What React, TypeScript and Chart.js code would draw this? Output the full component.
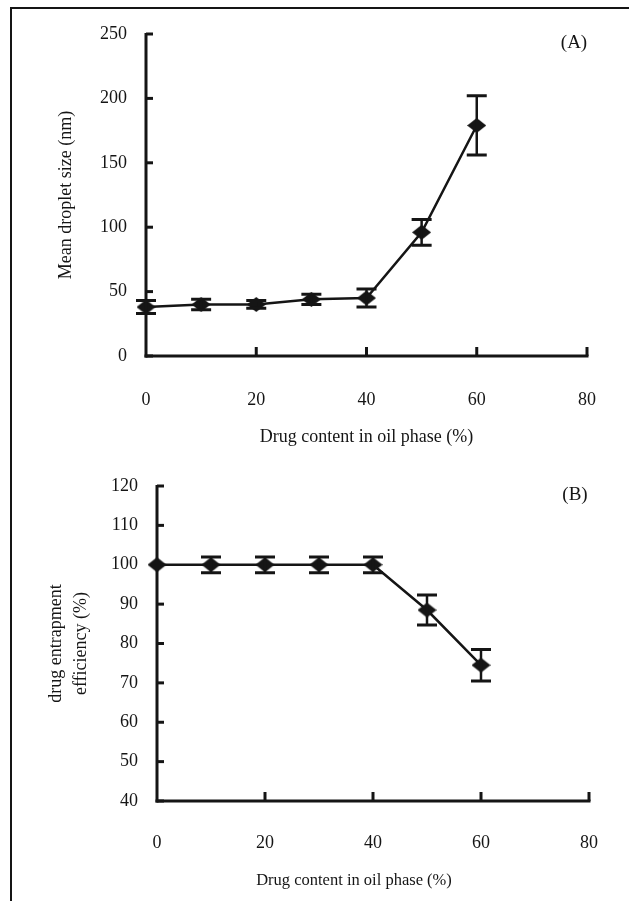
import React, { useEffect, useRef } from "react";
import { Chart, registerables } from "chart.js";

Chart.register(...registerables);

// ---- data ----
const drugContent = [0, 10, 20, 30, 40, 50, 60];
const dropletSize = [38, 40, 40, 44, 45, 96, 179];
const dropletSizeErr = [5, 4, 3, 4, 7, 10, 23];
const entrapment = [100, 100, 100, 100, 100, 88.5, 74.5];
const entrapmentErr = [0, 2, 2, 2, 2, 3.8, 4];

const xTickValues = [0, 20, 40, 60, 80];
const sizeTickValues = [0, 50, 100, 150, 200, 250];
const entrapTickValues = [40, 50, 60, 70, 80, 90, 100, 110, 120];

const xAxisTitle = "Drug content in oil phase (%)";
const sizeAxisTitle = ["Mean droplet size (nm)"];
const entrapAxisTitle = ["drug entrapment", "efficiency (%)"];
const panelLabels = ["(A)", "(B)"];

const FONT = "'Liberation Serif', 'Times New Roman', serif";
const INK = "#151515";
const FS = 18;

function makeDiamond(): HTMLCanvasElement {
  const w = 19, h = 15;
  const c = document.createElement("canvas");
  c.width = w;
  c.height = h;
  const g = c.getContext("2d")!;
  g.fillStyle = INK;
  g.beginPath();
  g.moveTo(w / 2, 0);
  g.lineTo(w, h / 2);
  g.lineTo(w / 2, h);
  g.lineTo(0, h / 2);
  g.closePath();
  g.fill();
  return c;
}

type PanelProps = {
  width: number;
  height: number;
  top: number;
  means: number[];
  errors: number[];
  yTicks: number[];
  yTitle: string[];
  label: string;
  area: { left: number; top: number; right: number; bottom: number };
  yTitleX: number;
  yTitleGap: number;
  yTitleDY: number;
  xTitleY: number;
  xTitleDX: number;
  xTitleFS: number;
  xLabelPad: number;
  labelPos: { x: number; y: number };
};

function Panel(p: PanelProps) {
  const ref = useRef<HTMLCanvasElement | null>(null);

  useEffect(() => {
    if (!ref.current) return;
    const diamond = makeDiamond();
    const decor = {
      id: "decor",
      beforeDatasetsDraw(chart: any) {
        const ctx = chart.ctx as CanvasRenderingContext2D;
        const { left, right, top, bottom } = chart.chartArea;
        const xs = chart.scales.x;
        const ys = chart.scales.y;
        ctx.save();
        ctx.strokeStyle = INK;
        ctx.lineCap = "butt";
        ctx.lineWidth = 3;
        ctx.beginPath();
        ctx.moveTo(left, top - 1);
        ctx.lineTo(left, bottom + 1.5);
        ctx.stroke();
        ctx.beginPath();
        ctx.moveTo(left - 1.5, bottom);
        ctx.lineTo(right + 1.5, bottom);
        ctx.stroke();
        p.yTicks.forEach((v) => {
          const y = ys.getPixelForValue(v);
          ctx.beginPath();
          ctx.moveTo(left, y);
          ctx.lineTo(left + 7, y);
          ctx.stroke();
        });
        xTickValues.forEach((v) => {
          if (v === 0) return;
          const x = xs.getPixelForValue(v);
          ctx.beginPath();
          ctx.moveTo(x, bottom);
          ctx.lineTo(x, bottom - 9);
          ctx.stroke();
        });
        ctx.restore();
      },
      afterDraw(chart: any) {
        const ctx = chart.ctx as CanvasRenderingContext2D;
        const { left, right, top, bottom } = chart.chartArea;
        const xs = chart.scales.x;
        const ys = chart.scales.y;
        ctx.save();
        ctx.strokeStyle = INK;
        ctx.fillStyle = INK;
        ctx.lineCap = "butt";
        p.means.forEach((m, i) => {
          const e = p.errors[i];
          if (!e) return;
          const x = xs.getPixelForValue(drugContent[i]);
          const y1 = ys.getPixelForValue(m + e);
          const y2 = ys.getPixelForValue(m - e);
          ctx.lineWidth = 2.5;
          ctx.beginPath();
          ctx.moveTo(x, y1);
          ctx.lineTo(x, y2);
          ctx.stroke();
          ctx.lineWidth = 3;
          ctx.beginPath();
          ctx.moveTo(x - 10, y1);
          ctx.lineTo(x + 10, y1);
          ctx.moveTo(x - 10, y2);
          ctx.lineTo(x + 10, y2);
          ctx.stroke();
        });
        ctx.textAlign = "center";
        ctx.textBaseline = "middle";
        ctx.font = `${p.xTitleFS}px ${FONT}`;
        ctx.fillText(xAxisTitle, (left + right) / 2 + p.xTitleDX, bottom + p.xTitleY);
        ctx.font = `${FS}px ${FONT}`;
        const cy = (top + bottom) / 2 + p.yTitleDY;
        p.yTitle.forEach((t, i) => {
          ctx.save();
          ctx.translate(left + p.yTitleX + i * p.yTitleGap, cy);
          ctx.rotate(-Math.PI / 2);
          ctx.fillText(t, 0, 0);
          ctx.restore();
        });
        ctx.font = `19px ${FONT}`;
        ctx.fillText(p.label, p.labelPos.x, p.labelPos.y);
        ctx.restore();
      },
    };

    const chart = new Chart(ref.current, {
      type: "line",
      data: {
        labels: drugContent,
        datasets: [
          {
            data: drugContent.map((x, i) => ({ x, y: p.means[i] })),
            borderColor: INK,
            backgroundColor: INK,
            borderWidth: 2.5,
            pointStyle: diamond as any,
            pointRadius: 9,
            tension: 0,
            clip: false as any,
          },
        ],
      },
      options: {
        responsive: false,
        animation: false,
        devicePixelRatio: 1,
        events: [],
        layout: {
          padding: {
            left: 0,
            top: p.area.top,
            right: p.width - p.area.right,
            bottom: 0,
          },
        },
        plugins: {
          legend: { display: false },
          tooltip: { enabled: false },
        },
        scales: {
          x: {
            type: "linear",
            min: 0,
            max: 80,
            grid: { display: false, drawTicks: false },
            border: { display: false },
            afterBuildTicks: (s: any) => {
              s.ticks = xTickValues.map((v) => ({ value: v }));
            },
            afterFit: (s: any) => {
              s.height = p.height - p.area.bottom;
            },
            ticks: {
              padding: p.xLabelPad,
              color: INK,
              font: { family: FONT, size: FS },
              maxRotation: 0,
            },
          },
          y: {
            type: "linear",
            min: p.yTicks[0],
            max: p.yTicks[p.yTicks.length - 1],
            grid: { display: false, drawTicks: false },
            border: { display: false },
            afterBuildTicks: (s: any) => {
              s.ticks = p.yTicks.map((v) => ({ value: v }));
            },
            afterFit: (s: any) => {
              s.width = p.area.left;
            },
            ticks: {
              padding: 19,
              color: INK,
              font: { family: FONT, size: FS },
            },
          },
        },
      },
      plugins: [decor],
    });
    return () => chart.destroy();
  }, []);

  return (
    <canvas
      ref={ref}
      width={p.width}
      height={p.height}
      style={{ position: "absolute", left: 0, top: p.top, width: p.width, height: p.height }}
    />
  );
}

export default function App() {
  return (
    <div
      style={{
        position: "absolute",
        left: 0,
        top: 0,
        width: 629,
        height: 901,
        background: "#fff",
        overflow: "hidden",
      }}
    >
      <div
        style={{
          position: "absolute",
          left: 10,
          top: 7,
          width: 700,
          height: 1000,
          borderLeft: `2px solid ${INK}`,
          borderTop: `2px solid ${INK}`,
        }}
      />
      <Panel
        width={629}
        height={455}
        top={0}
        means={dropletSize}
        errors={dropletSizeErr}
        yTicks={sizeTickValues}
        yTitle={sizeAxisTitle}
        label={panelLabels[0]}
        area={{ left: 146, top: 34, right: 589, bottom: 356 }}
        yTitleX={-80}
        yTitleGap={0}
        yTitleDY={0}
        xTitleY={81}
        xTitleDX={0}
        xTitleFS={18}
        xLabelPad={33}
        labelPos={{ x: 574, y: 43 }}
      />
      <Panel
        width={629}
        height={446}
        top={455}
        means={entrapment}
        errors={entrapmentErr}
        yTicks={entrapTickValues}
        yTitle={entrapAxisTitle}
        label={panelLabels[1]}
        area={{ left: 157, top: 31, right: 596, bottom: 346 }}
        yTitleX={-101}
        yTitleGap={25}
        yTitleDY={0}
        xTitleY={80}
        xTitleDX={-19}
        xTitleFS={16.5}
        xLabelPad={31}
        labelPos={{ x: 575, y: 40 }}
      />
    </div>
  );
}
